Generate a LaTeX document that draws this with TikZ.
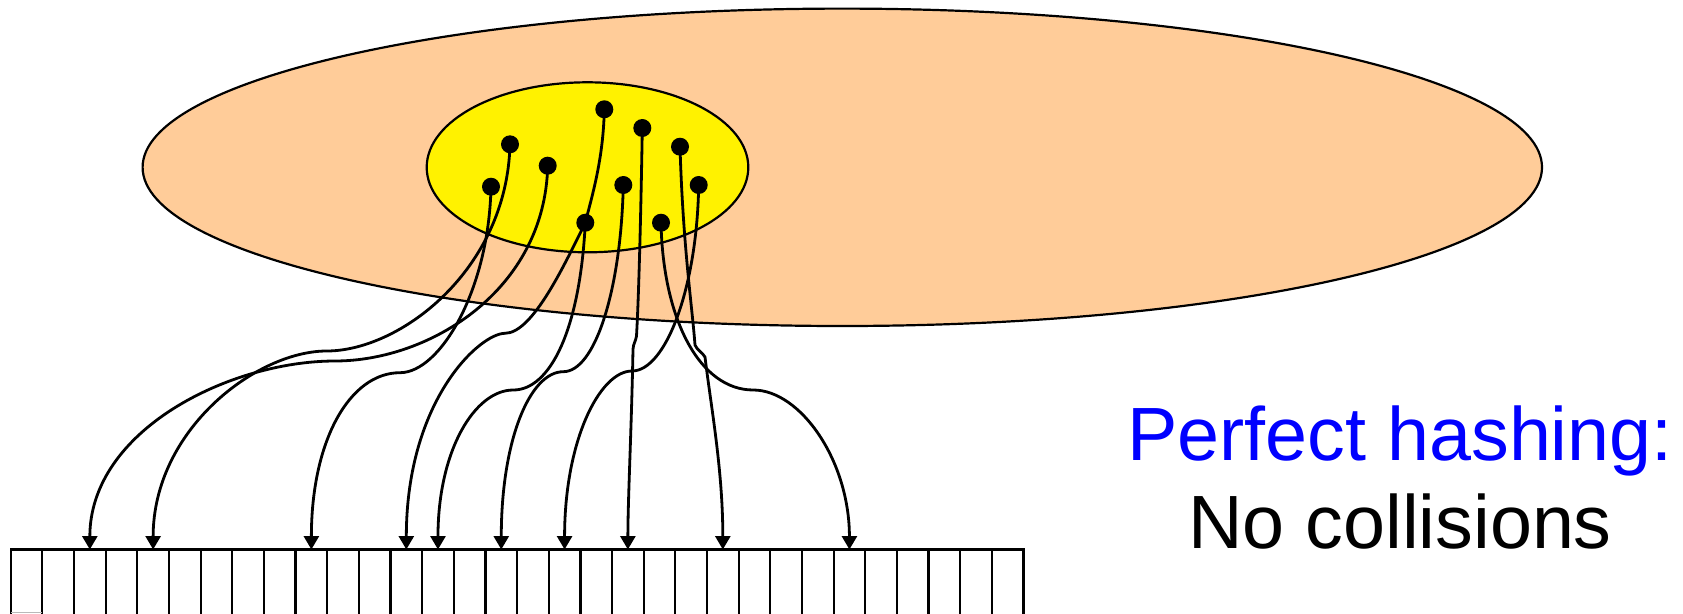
\documentclass[tikz,border=0pt]{standalone}
\usepackage{fontspec}
\newfontfamily\arialf{Liberation Sans}
\usetikzlibrary{arrows.meta,shapes.geometric}
\definecolor{peach}{HTML}{FFCC99}
\definecolor{hashblue}{HTML}{0000FF}
\begin{document}
\begin{tikzpicture}[x=1pt,y=-1pt,
  conn/.style={line width=2.8pt, -{Triangle[length=13.5pt,width=15pt]}},
  dotnode/.style={circle, fill=black, minimum size=18pt, inner sep=0pt},
  cellbox/.style={draw=black, line width=2.2pt, minimum width=31.65pt, minimum height=66pt, inner sep=0pt, outer sep=0pt, anchor=north west},
  txt/.style={font=\arialf\fontsize{75.5}{90}\selectfont, anchor=base, inner sep=0pt},
  blob/.style={ellipse, draw=black, line width=2.2pt, inner sep=0pt}]
\useasboundingbox (0,0) rectangle (1683,613);
% sets
\node[blob, fill=peach, minimum width=1399.4pt, minimum height=317.4pt] (big) at (842.3,167.3) {};
\node[blob, fill=yellow, minimum width=321.6pt, minimum height=170pt] (small) at (587.5,167.3) {};
% table
\foreach \i in {0,...,31} \node[cellbox] (c\i) at ({10.7+31.65*\i},549.5) {};
\draw[gray!55, line width=1.5pt] (c0.south west) ++(0,-3) coordinate (g0) -- ++(31.65,0);
% keys
\node[dotnode] (d1) at (510,144.3) {};
\node[dotnode] (d2) at (547.7,165.7) {};
\node[dotnode] (d3) at (491,186.7) {};
\node[dotnode] (d4) at (604.3,109.3) {};
\node[dotnode] (d5) at (642.3,128) {};
\node[dotnode] (d6) at (680,146.7) {};
\node[dotnode] (d7) at (623.3,185) {};
\node[dotnode] (d8) at (698.7,185) {};
\node[dotnode] (d9) at (585.3,222.7) {};
\node[dotnode] (d10) at (661,222.7) {};
% bend points
\coordinate (m1) at (326.7,351);
\coordinate (m2) at (335,361);
\coordinate (m3) at (400,372.7);
\coordinate (m4) at (505,333.3);
\coordinate (m5) at (513.3,390);
\coordinate (m6) at (563.3,371.7);
\coordinate (m7) at (632,371);
\coordinate (m8) at (753.3,390);
\coordinate (k1) at (636.5,336);
\coordinate (k2) at (633,349);
\coordinate (k3) at (695,345);
\coordinate (k4) at (705,357);
% hash connectors
\draw[conn] (d1.center) .. controls +(-3,125.7) and +(73.3,0) .. (m1) .. controls +(-70,0) and +(0,-120) .. (c4.north);
\draw[conn] (d2.center) .. controls +(-2.7,124.3) and +(95,0) .. (m2) .. controls +(-105,0) and +(0,-119.5) .. (c2.north);
\draw[conn] (d3.center) .. controls +(-2,103.3) and +(40,0) .. (m3) .. controls +(-50,0) and +(0,-109.5) .. (c9.north);
\draw[conn] (d9.center) .. controls +(-20,40) and +(28,0) .. (m4) .. controls +(-25,0) and +(0,-149.5) .. (c12.north);
\draw[conn] (d4.center) .. controls +(-1,50) and +(7,-28) .. (d9.center) .. controls +(-5.3,107.3) and +(36.7,0) .. (m5) .. controls +(-38.3,0) and +(0,-99.5) .. (c13.north);
\draw[conn] (d7.center) .. controls +(-2.3,105) and +(31.7,0) .. (m6) .. controls +(-33.3,0) and +(0,-109.5) .. (c15.north);
\draw[conn] (d8.center) .. controls +(-1.7,105) and +(33,0) .. (m7) .. controls +(-32,0) and +(0,-109.5) .. (c17.north);
\draw[conn] (d5.center) .. controls +(-2,120) and +(1.5,-26) .. (k1) .. controls +(-1,6) and +(0.5,-6) .. (k2) .. controls +(-1.5,80) and +(0,-50) .. (c19.north);
\draw[conn] (d6.center) .. controls +(3,100) and +(-3,-40) .. (k3) .. controls +(2,5) and +(-3,-5) .. (k4) .. controls +(6,50) and +(0,-80) .. (c22.north);
\draw[conn] (d10.center) .. controls +(2,97.3) and +(-53.3,0) .. (m8) .. controls +(46.7,0) and +(0,-89.5) .. (c26.north);
% caption
\node[txt, text=hashblue] (t1) at (1400,460) {Perfect hashing:};
\node[txt] (t2) at (1400,548.3) {No collisions};
\end{tikzpicture}
\end{document}
